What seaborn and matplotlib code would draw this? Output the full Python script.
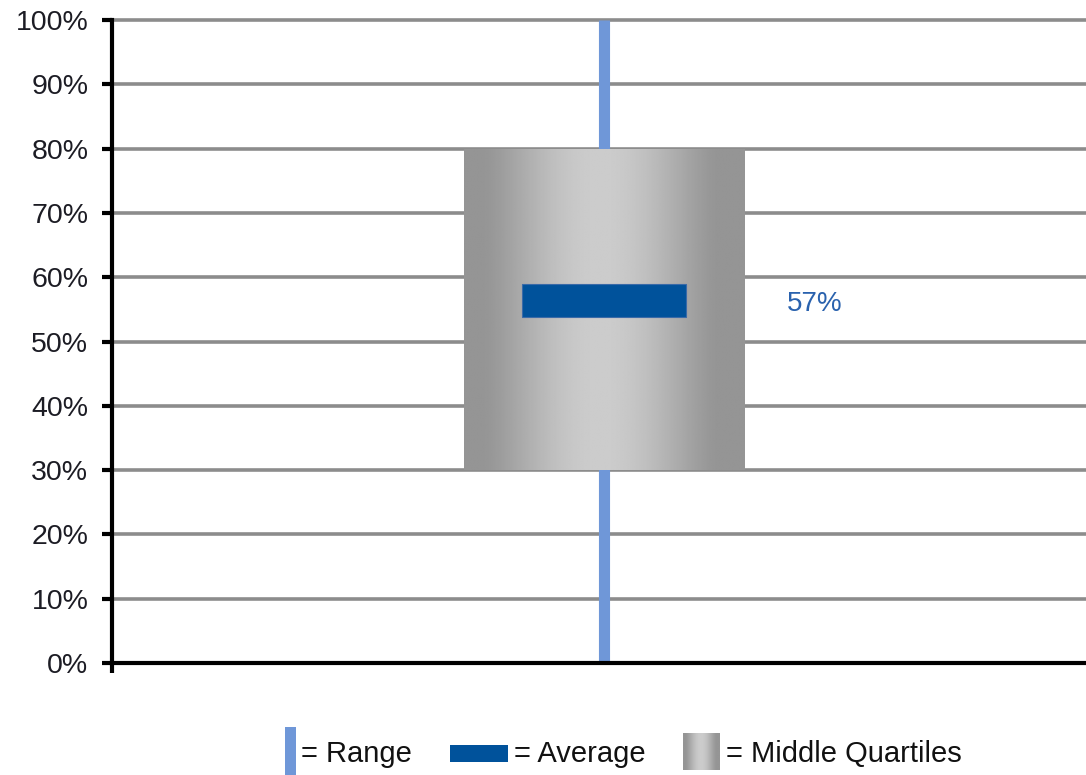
import matplotlib
matplotlib.use("Agg")
import matplotlib.pyplot as plt
import matplotlib.patches as mpatches
import seaborn as sns
import numpy as np
import pandas as pd

# chart values
category = ["All"]
range_low = [0]
range_high = [100]
q1 = [30]
q3 = [80]
average = [56.4]
avg_label = ["57%"]
yticks = list(range(0, 101, 10))
legend_labels = ["= Range", "= Average", "= Middle Quartiles"]

RANGE_BLUE = "#6f97d8"
AVG_BLUE = "#00529b"
TEXT_BLUE = "#2a62ae"
GRID = "#8c8c8c"

sns.set_style("white")
plt.rcParams["font.family"] = ["Liberation Sans", "DejaVu Sans"]

W, H = 1086, 775
fig = plt.figure(figsize=(W / 100, H / 100), dpi=100)
ax = fig.add_axes([112 / W, 112 / H, 1 - 112 / W, 643 / H])

# grey gradient used for the quartile box (dark edges, light middle)
t = np.linspace(0, 1, 256)
shade = 0.585 + 0.215 * np.clip(np.sin(np.pi * np.clip((t - 0.07) / 0.83, 0, 1)), 0, 1) ** 1.3
grad = np.tile(shade, (2, 1))

df = pd.DataFrame({"cat": category, "height": np.array(q3) - np.array(q1), "bottom": q1})

# grid lines
for v in yticks[1:]:
    ax.axhline(v, color=GRID, lw=2.6, zorder=1, clip_on=False)

# range line
ax.vlines(np.arange(len(category)), range_low, range_high, color=RANGE_BLUE, lw=8, zorder=2)

# middle quartiles box
sns.barplot(data=df, x="cat", y="height", bottom=df["bottom"].values, width=0.2875,
            errorbar=None, color="#b0b0b0", linewidth=0, ax=ax, zorder=3)
box = ax.patches[0]
bx, by = box.get_x(), box.get_y()
bw, bh = box.get_width(), box.get_height()
im = ax.imshow(grad, cmap="gray", vmin=0, vmax=1, aspect="auto",
               extent=(bx, bx + bw, by, by + bh), zorder=4, interpolation="bilinear")
im.set_clip_path(box)

# average marker
for i, a in enumerate(average):
    ax.add_patch(mpatches.Rectangle((i - 0.084, a - 2.6), 0.168, 5.2, facecolor=AVG_BLUE,
                                    edgecolor="#3a6aa8", lw=0.8, zorder=5))
    ax.annotate(avg_label[i], (i, a), xytext=(183, -4), textcoords="offset pixels",
                fontsize=20, color=TEXT_BLUE, va="center", ha="left")

ax.set_xlim(-0.505, 0.495)
ax.set_ylim(0, 100)
ax.set_yticks(yticks)
ax.set_yticklabels([f"{v}%" for v in yticks], fontsize=20.5, color="#1c1c24")
ax.set_xticks([-0.505])
ax.set_xticklabels([""])
ax.set_xlabel("")
ax.set_ylabel("")
ax.tick_params(axis="y", direction="out", length=7, width=3, color="black", pad=10, left=True)
ax.tick_params(axis="x", direction="out", length=7, width=3, color="black", bottom=True)
for side in ["top", "right"]:
    ax.spines[side].set_visible(False)
for side in ["left", "bottom"]:
    ax.spines[side].set_color("black")
    ax.spines[side].set_linewidth(3)
    ax.spines[side].set_zorder(6)

# legend drawn along the bottom of the figure
lax = fig.add_axes([0, 0, 1, 70 / H])
lax.set_xlim(0, W)
lax.set_ylim(70, 0)
lax.axis("off")
lax.add_patch(mpatches.Rectangle((285, 22), 11, 48, facecolor=RANGE_BLUE, lw=0))
lax.text(301, 49, legend_labels[0], fontsize=21, va="center", ha="left", color="#111111")
lax.add_patch(mpatches.Rectangle((450, 40), 58, 17, facecolor=AVG_BLUE, lw=0))
lax.text(514, 49, legend_labels[1], fontsize=21, va="center", ha="left", color="#111111")
sq = mpatches.Rectangle((683, 28), 37, 37, facecolor="none", lw=0)
lax.add_patch(sq)
lim = lax.imshow(grad, cmap="gray", vmin=0, vmax=1, aspect="auto",
                 extent=(683, 720, 65, 28), interpolation="bilinear")
lim.set_clip_path(sq)
lax.text(726, 49, legend_labels[2], fontsize=21, va="center", ha="left", color="#111111")
lax.set_xlim(0, W)
lax.set_ylim(70, 0)

fig.savefig("out.png", dpi=100)
